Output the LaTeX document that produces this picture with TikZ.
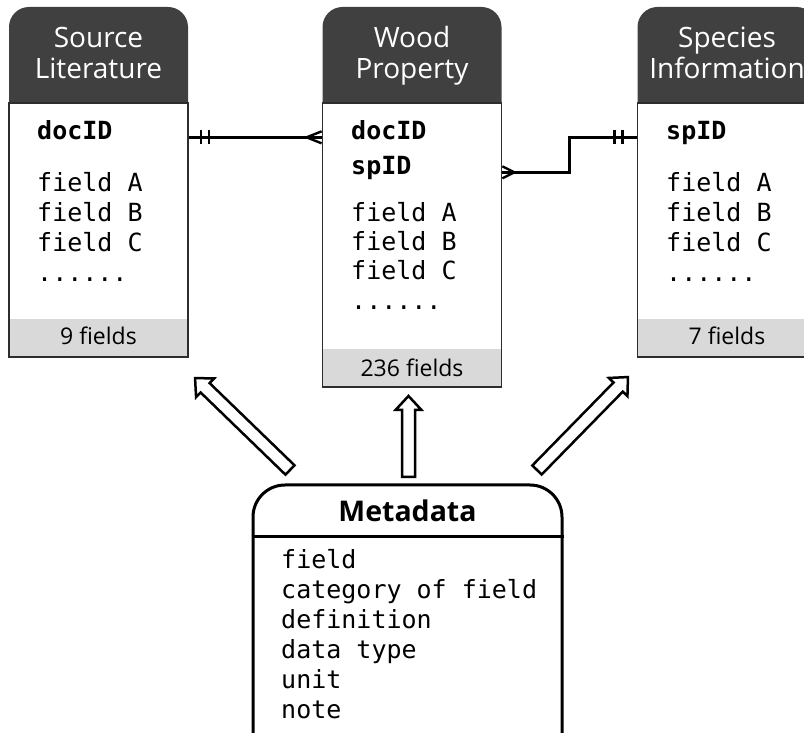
\documentclass[tikz,border=0pt]{standalone}
\usepackage{fontspec}
\setmainfont{Open Sans}
\setmonofont{DejaVu Sans Mono}
\usetikzlibrary{calc}

\definecolor{headgray}{RGB}{64,64,64}
\definecolor{bandgray}{RGB}{217,217,217}
\definecolor{rimgray}{RGB}{45,45,45}

% hollow block arrow from #1 to #2
\newcommand{\blockarrow}[2]{%
	\draw[blockarrow] let \p1 = ($(#2)-(#1)$), \n1 = {atan2(\y1,\x1)}, \n2 = {veclen(\x1,\y1)} in
		[shift={(#1)}, rotate=\n1]
		(0,6.5) -- (\n2-14,6.5) -- (\n2-14,13) -- (\n2,0) -- (\n2-14,-13) -- (\n2-14,-6.5) -- (0,-6.5) -- cycle;}

\begin{document}
\begin{tikzpicture}[x=1pt,y=1pt]
	\tikzstyle{every node}=[inner sep=0pt]
	\tikzstyle{tablehead}=[fill=headgray, rounded corners=20pt, minimum width=179pt, minimum height=136pt]
	\tikzstyle{tablebody}=[draw=rimgray, line width=1.8pt, fill=white, minimum width=179pt,
		path picture={\fill[bandgray] (path picture bounding box.south west) rectangle ([yshift=38pt]path picture bounding box.south east);}]
	\tikzstyle{headtext}=[anchor=base, text=white, font=\fontsize{28}{33}\selectfont]
	\tikzstyle{bandtext}=[anchor=base, font=\fontsize{23}{27}\selectfont]
	\tikzstyle{keyfield}=[anchor=base west, font=\ttfamily\bfseries\fontsize{25}{30}\selectfont]
	\tikzstyle{plainfield}=[anchor=base west, font=\ttfamily\fontsize{25}{30}\selectfont]
	\tikzstyle{relation}=[line width=2.4pt]
	\tikzstyle{metabox}=[draw, line width=3pt, fill=white, rounded corners=32pt, minimum width=309pt, minimum height=327pt]
	\tikzstyle{metatitle}=[anchor=base, font=\bfseries\fontsize{28.5}{34}\selectfont]
	\tikzstyle{blockarrow}=[draw, line width=2.5pt, fill=white, line join=miter]

	\useasboundingbox (0,0) rectangle (804,732);

	% source literature
	\node[tablehead] (srchead) at (98.5,657) {};
	\node[tablebody, minimum height=254pt] (srcbody) at (98.5,502) {};
	\node[headtext] (srct1) at (98.5,684) {Source};
	\node[headtext] (srct2) at (98.5,653) {Literature};
	\node[keyfield] (srcdoc) at (37,592) {docID};
	\node[plainfield] (srcfa) at (37,540) {field A};
	\node[plainfield] (srcfb) at (37,510) {field B};
	\node[plainfield] (srcfc) at (37,480) {field C};
	\node[plainfield] (srcdots) at (37,450) {......};
	\node[bandtext] (srcn) at (98.5,387) {9 fields};

	% wood property
	\node[tablehead] (wphead) at (412,657) {};
	\node[tablebody, minimum height=284pt] (wpbody) at (412,487) {};
	\node[headtext] (wpt1) at (412,684) {Wood};
	\node[headtext] (wpt2) at (412,653) {Property};
	\node[keyfield] (wpdoc) at (351,592) {docID};
	\node[keyfield] (wpspid) at (351,557) {spID};
	\node[plainfield] (wpfa) at (351,510) {field A};
	\node[plainfield] (wpfb) at (351,481) {field B};
	\node[plainfield] (wpfc) at (351,452) {field C};
	\node[plainfield] (wpdots) at (351,422) {......};
	\node[bandtext] (wpn) at (412,355) {236 fields};

	% species information
	\node[tablehead] (sphead) at (727,657) {};
	\node[tablebody, minimum height=254pt] (spbody) at (727,502) {};
	\node[headtext] (spt1) at (727,684) {Species};
	\node[headtext] (spt2) at (727,653) {Information};
	\node[keyfield] (spspid) at (666,592) {spID};
	\node[plainfield] (spfa) at (666,540) {field A};
	\node[plainfield] (spfb) at (666,510) {field B};
	\node[plainfield] (spfc) at (666,480) {field C};
	\node[plainfield] (spdots) at (666,450) {......};
	\node[bandtext] (spn) at (727,387) {7 fields};

	% relations
	\coordinate (srcend) at (srcbody.east |- srcdoc.mid);
	\coordinate (wpdocend) at (wpbody.west |- srcdoc.mid);
	\coordinate (wpspend) at (wpbody.east |- wpspid.mid);
	\coordinate (spend) at (spbody.west |- spspid.mid);
	\draw[relation] (srcend) -- (wpdocend);
	\draw[relation] ($(srcend)+(12,7)$) -- ($(srcend)+(12,-7)$);
	\draw[relation] ($(srcend)+(20,7)$) -- ($(srcend)+(20,-7)$);
	\draw[relation] ($(wpdocend)+(0,6)$) -- ($(wpdocend)+(-15,0)$) -- ($(wpdocend)+(0,-6)$);
	\draw[relation] (wpspend) -- ++(67,0) |- (spend);
	\draw[relation] ($(wpspend)+(0,6)$) -- ($(wpspend)+(12,0)$) -- ($(wpspend)+(0,-6)$);
	\draw[relation] ($(spend)+(-14,7)$) -- ($(spend)+(-14,-7)$);
	\draw[relation] ($(spend)+(-22,7)$) -- ($(spend)+(-22,-7)$);

	% metadata
	\node[metabox] (meta) at (407.5,83.5) {};
	\draw[line width=3pt] ([yshift=-53pt]meta.north west) -- ([yshift=-53pt]meta.north east);
	\node[metatitle] (metat) at ($(meta.north)+(0,-38)$) {Metadata};
	\node[plainfield] (mf1) at (281,164) {field};
	\node[plainfield] (mf2) at (281,134) {category of field};
	\node[plainfield] (mf3) at (281,104) {definition};
	\node[plainfield] (mf4) at (281,74) {data type};
	\node[plainfield] (mf5) at (281,44) {unit};
	\node[plainfield] (mf6) at (281,14) {note};

	% block arrows
	\coordinate (arrsrctail) at (290,262);
	\coordinate (arrsrctip) at (195,354);
	\coordinate (arrwptail) at (408.5,255);
	\coordinate (arrwptip) at (408.5,336);
	\coordinate (arrsptail) at (537,262);
	\coordinate (arrsptip) at (628,355);
	\blockarrow{arrsrctail}{arrsrctip}
	\blockarrow{arrwptail}{arrwptip}
	\blockarrow{arrsptail}{arrsptip}
\end{tikzpicture}
\end{document}
